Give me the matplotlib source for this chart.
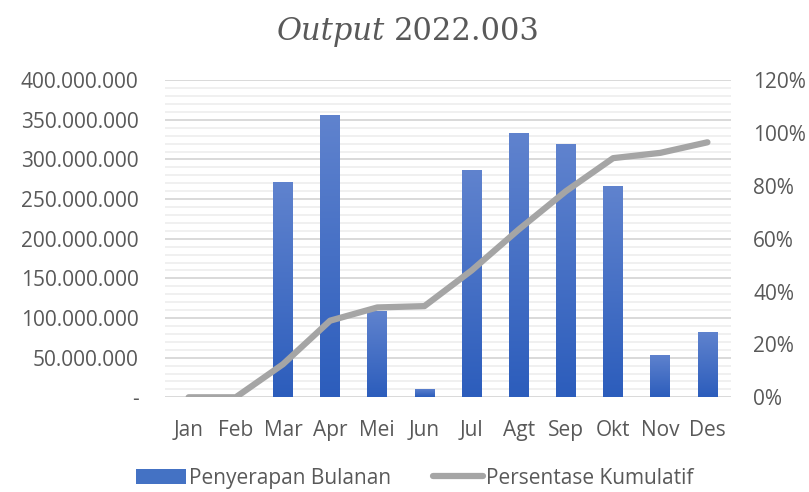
#!/usr/bin/env python3

import matplotlib
matplotlib.use('Agg')
import matplotlib.pyplot as plt
from matplotlib.ticker import FuncFormatter, MultipleLocator
from matplotlib.lines import Line2D
from matplotlib.patches import Patch
import numpy as np

# data
months = ['Jan', 'Feb', 'Mar', 'Apr', 'Mei', 'Jun', 'Jul', 'Agt', 'Sep', 'Okt', 'Nov', 'Des']
monthly = [0, 0, 271.7e6, 356e6, 109e6, 10.5e6, 286.8e6, 333.5e6, 319.7e6, 266.6e6, 53.4e6, 82.4e6]
cumulative_pct = [0, 0, 0.125, 0.29, 0.34, 0.345, 0.48, 0.635, 0.78, 0.905, 0.925, 0.965]

txt = '#595959'
fs = 15
plt.rcParams['font.family'] = ['Open Sans', 'DejaVu Sans']

fig = plt.figure(figsize=(8.09, 4.92), dpi=100)
ax = fig.add_axes([0.204, 0.1925, 0.6996, 0.6445])
ax2 = ax.twinx()

x = np.arange(len(months))
w = 0.42

# gradient bars (light top, darker bottom)
grad = np.linspace(0, 1, 256).reshape(-1, 1)
top_c = np.array([96, 131, 206]) / 255
bot_c = np.array([44, 93, 188]) / 255
img = bot_c[None, None, :] * (1 - grad[:, :, None]) + top_c[None, None, :] * grad[:, :, None]
bars = ax.bar(x, monthly, width=w, color='#4472C4', zorder=3)
for b in bars:
    h = b.get_height()
    if h <= 0:
        continue
    im = ax.imshow(img, extent=[b.get_x(), b.get_x() + w, 0, h], origin='lower',
                   aspect='auto', zorder=3.1)
    im.set_clip_path(b)

ax.set_xlim(-0.5, len(months) - 0.5)
ax.set_ylim(0, 400e6)
ax.yaxis.set_major_locator(MultipleLocator(50e6))
ax.yaxis.set_minor_locator(MultipleLocator(10e6))
ax.yaxis.set_major_formatter(FuncFormatter(
    lambda v, p: '-' if v == 0 else f'{int(v):,}'.replace(',', '.')))
ax.grid(axis='y', which='minor', color='#F0F0F0', linewidth=1.4, zorder=0)
ax.grid(axis='y', which='major', color='#D9D9D9', linewidth=1.4, zorder=0)
ax.set_axisbelow(True)
ax.set_xticks(x)
ax.set_xticklabels(months)
ax.tick_params(axis='both', which='both', length=0, labelsize=fs, colors=txt)
ax.tick_params(axis='y', pad=19)
ax.tick_params(axis='x', pad=16)
for s in ax.spines.values():
    s.set_visible(False)

ax2.plot(x, cumulative_pct, color='#A5A5A5', linewidth=4.5, solid_capstyle='round', zorder=4)
ax2.set_ylim(0, 1.2)
ax2.yaxis.set_major_locator(MultipleLocator(0.2))
ax2.yaxis.set_major_formatter(FuncFormatter(lambda v, p: f'{v * 100:.0f}%'))
ax2.tick_params(axis='y', length=0, labelsize=fs, colors=txt, pad=16)
for s in ax2.spines.values():
    s.set_visible(False)

# title: italic "Output" + regular "2022.003", centred as one line
t1 = fig.text(0, 0.935, 'Output', fontsize=22, style='italic', color=txt,
              family='DejaVu Serif', ha='left', va='center')
t2 = fig.text(0, 0.935, '2022.003', fontsize=22, color=txt,
              family='DejaVu Serif', ha='left', va='center')
fig.canvas.draw()
W = fig.bbox.width
b1 = t1.get_window_extent()
b2 = t2.get_window_extent()
gap = 9
total = b1.width + gap + b2.width
x0 = 408 - total / 2
t1.set_x(x0 / W)
t2.set_x((x0 + b1.width + gap) / W)

handles = [Patch(facecolor='#4472C4', edgecolor='none'),
           Line2D([0], [0], color='#A5A5A5', linewidth=4.5, solid_capstyle='round')]
fig.legend(handles, ['Penyerapan Bulanan', 'Persentase Kumulatif'], loc='center',
           bbox_to_anchor=(0.513, 0.028), ncol=2, frameon=False, fontsize=fs,
           labelcolor=txt, handlelength=2.4, handletextpad=0.15, columnspacing=2.0,
           borderpad=0.1)

fig.savefig('out.png', dpi=100)
plt.close(fig)
